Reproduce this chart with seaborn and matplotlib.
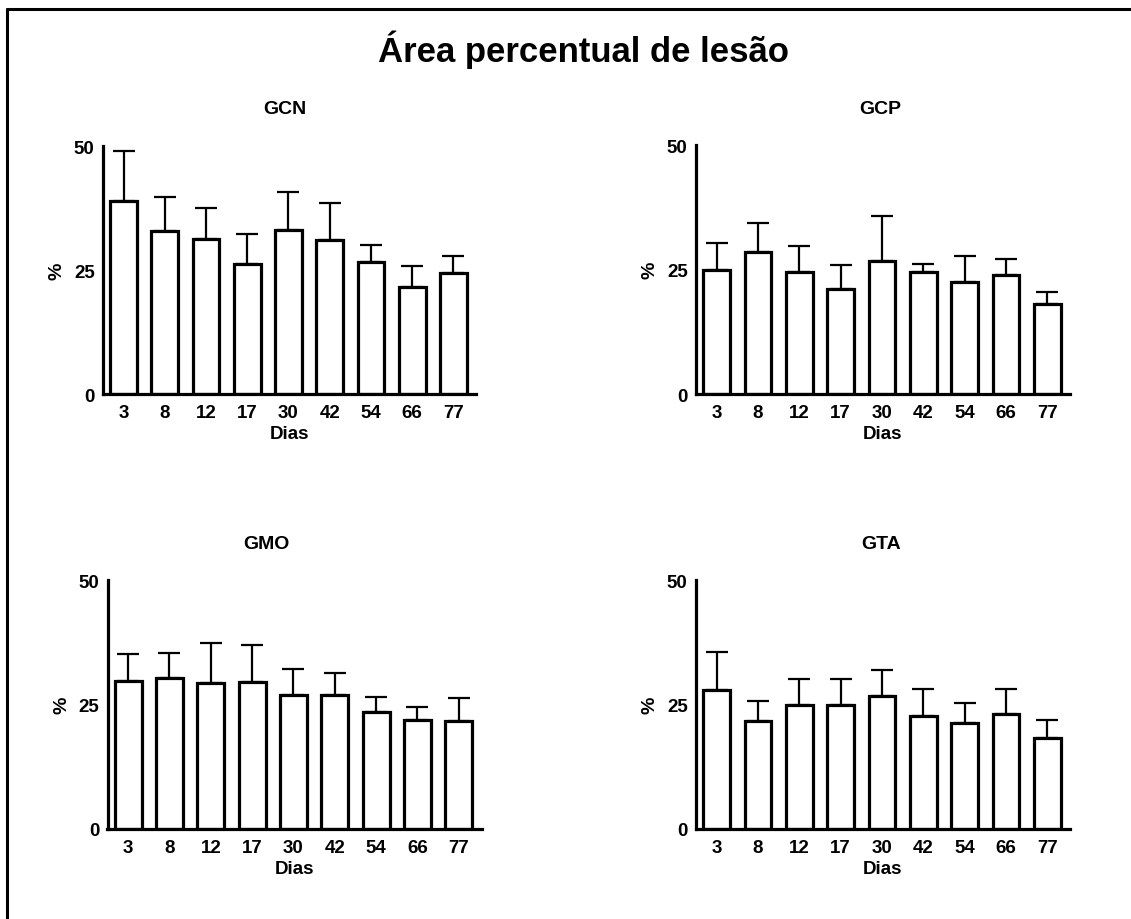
import matplotlib
matplotlib.use("Agg")
import matplotlib.pyplot as plt
import seaborn as sns
import pandas as pd
from matplotlib.lines import Line2D

# Days of evaluation
dias = ["3", "8", "12", "17", "30", "42", "54", "66", "77"]

# Mean lesion area (%) per group
gcn_mean = [38.9, 32.8, 31.2, 26.3, 33.1, 31.1, 26.6, 21.5, 24.4]
gcp_mean = [25.0, 28.5, 24.4, 21.1, 26.7, 24.5, 22.5, 23.9, 18.0]
gmo_mean = [29.7, 30.3, 29.3, 29.5, 26.9, 27.0, 23.4, 21.8, 21.6]
gta_mean = [27.9, 21.6, 25.0, 24.8, 26.8, 22.7, 21.3, 23.1, 18.2]

# Upper end of the error bars (mean + SD)
gcn_top = [48.9, 39.8, 37.4, 32.3, 40.8, 38.6, 30.0, 25.8, 27.9]
gcp_top = [30.3, 34.4, 29.7, 25.9, 35.8, 26.1, 27.7, 27.1, 20.5]
gmo_top = [35.1, 35.3, 37.4, 36.9, 32.1, 31.3, 26.5, 24.4, 26.4]
gta_top = [35.6, 25.8, 30.2, 30.2, 31.9, 28.1, 25.3, 28.1, 21.9]

grupos = ["GCN", "GCP", "GMO", "GTA"]
medias = [gcn_mean, gcp_mean, gmo_mean, gta_mean]
topos = [gcn_top, gcp_top, gmo_top, gta_top]

sns.set_theme(style="white")
plt.rcParams["font.family"] = ["Liberation Sans", "DejaVu Sans"]
plt.rcParams["font.weight"] = "bold"
for key in ["text.color", "axes.labelcolor", "xtick.color", "ytick.color",
            "axes.edgecolor"]:
    plt.rcParams[key] = "black"

W, H = 1131, 920
fig = plt.figure(figsize=(W / 100, H / 100), dpi=100)
fig.patch.set_facecolor("white")

# axes placement in pixels: (left, bottom-from-top, width, height)
boxes = [
    (103, 395, 373, 248),
    (696, 395, 374, 249),
    (107.5, 830, 374, 249),
    (696, 830, 374, 249),
]
# centre of each panel title, in pixels from the top-left corner
title_xy = [(285, 110), (880, 110), (266, 545), (881, 545)]

LW = 2.3
for grupo, media, topo, (l, b, w, h), (tx, ty) in zip(grupos, medias, topos,
                                                        boxes, title_xy):
    ax = fig.add_axes([l / W, (H - b) / H, w / W, h / H])
    df = pd.DataFrame({"Dias": dias, "valor": media})
    sd = [t - m for t, m in zip(topo, media)]
    ax.errorbar(range(len(dias)), media, yerr=[[0] * len(dias), sd],
                fmt="none", ecolor="black", elinewidth=1.6, capsize=8,
                capthick=1.6, zorder=1, clip_on=False)
    sns.barplot(data=df, x="Dias", y="valor", ax=ax, color="white",
                edgecolor="black", linewidth=LW, width=0.65,
                errorbar=None, zorder=2)
    for p in ax.patches:
        p.set_facecolor("white")
        p.set_zorder(2)
    ax.set_xlim(-0.5, 8.55)
    ax.set_ylim(0, 50)
    ax.set_yticks([0, 25, 50])
    ax.set_facecolor("none")
    for s in ["top", "right"]:
        ax.spines[s].set_visible(False)
    for s in ["left", "bottom"]:
        ax.spines[s].set_linewidth(LW)
        ax.spines[s].set_color("black")
    ax.tick_params(axis="both", which="major", direction="out", length=5,
                   width=LW, color="black", labelcolor="black",
                   labelsize=13.5, pad=1)
    ax.tick_params(axis="x", length=6)
    for lab in ax.get_xticklabels() + ax.get_yticklabels():
        lab.set_fontweight("bold")
    ax.set_xlabel("Dias", fontsize=13.5, fontweight="bold", labelpad=3,
                  color="black")
    ax.set_ylabel("%", fontsize=14, fontweight="bold", labelpad=6,
                  color="black")
    fig.text(tx / W, 1 - ty / H, grupo, fontsize=14,
             fontweight="bold", ha="center", va="center", color="black")

fig.text(584 / W, 1 - 50 / H, "Área percentual de lesão", fontsize=25,
         fontweight="bold", ha="center", va="center", color="black")

# outer frame (top and left edges)
fig.add_artist(Line2D([7 / W, 1.0], [1 - 10 / H, 1 - 10 / H],
                      transform=fig.transFigure, color="black", lw=2.2))
fig.add_artist(Line2D([7 / W, 7 / W], [0.0, 1 - 10 / H],
                      transform=fig.transFigure, color="black", lw=2.2))

fig.savefig("out.png", dpi=100, facecolor="white")
